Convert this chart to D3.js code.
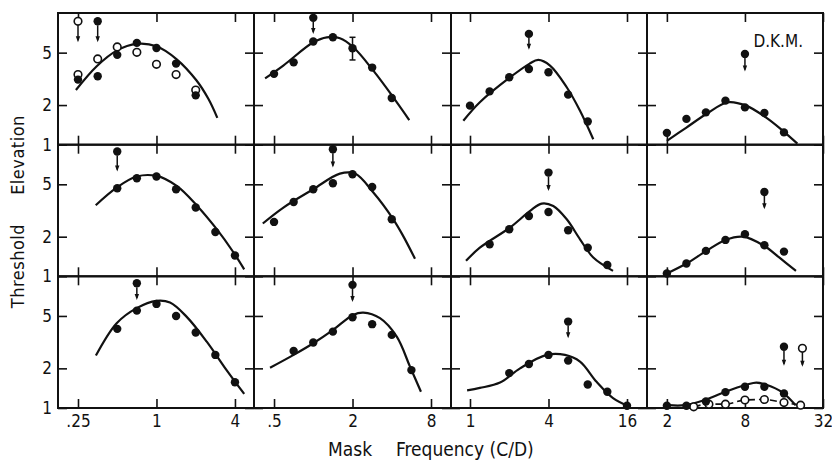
<!DOCTYPE html>
<html><head><meta charset="utf-8">
<script src="https://cdn.jsdelivr.net/npm/d3@7"></script>
<style>
body{margin:0;background:#fff}
svg text{font-family:"DejaVu Sans Condensed","DejaVu Sans",sans-serif;font-stretch:condensed;fill:#111}
</style></head><body>
<svg id="chart" width="832" height="464"></svg>
<script>
// ---------- axes ----------
const colTicks = [[0.25, 1, 4], [0.5, 2, 8], [1, 4, 16], [2, 8, 32]];
const colTickLabels = [[".25", "1", "4"], [".5", "2", "8"], ["1", "4", "16"], ["2", "8", "32"]];
const colDomains = [[0.1756, 5.6], [0.351, 11.39], [0.715, 22.78], [1.405, 32]];
const yDomain = [1, 10];
const yTicks = [1, 2, 5];
const yTickLabels = ["1", "2", "5"];

// ---------- data: mask frequency (c/deg) vs threshold elevation ----------
// row 1
const r1c1Freq = [0.25, 0.354, 0.5, 0.707, 1, 1.414, 2];
const r1c1Filled = [3.12, 3.31, 4.81, 5.93, 5.43, 4.13, 2.37];
const r1c1Open = [3.41, 4.48, 5.53, 5.03, 4.08, 3.41, 2.6];
const r1c1CurveF = [0.241, 0.348, 0.495, 0.705, 1.0, 1.43, 2.03, 2.5, 2.93];
const r1c1CurveV = [2.6, 3.94, 5.18, 5.83, 5.59, 4.45, 3.07, 2.23, 1.6];
const r1c1Arrows = [{f: 0.25, top: 8.65, tip: 6.0, open: true}, {f: 0.354, top: 8.65, tip: 6.0, open: false}];

const r1c2Freq = [0.5, 0.707, 1, 1.414, 2, 2.83, 4];
const r1c2Filled = [3.45, 4.22, 6.07, 6.54, 5.4, 3.85, 2.26];
const r1c2CurveF = [0.427, 0.589, 1.0, 1.27, 1.6, 2.03, 2.89, 4.11, 5.45];
const r1c2CurveV = [3.19, 3.99, 5.99, 6.54, 6.43, 5.49, 3.65, 2.29, 1.54];
const r1c2Arrows = [{f: 1, top: 9.19, tip: 6.94, open: false}];
const r1c2ErrorBars = [{f: 2, lo: 4.4, hi: 6.54}];

const r1c3Freq = [1, 1.414, 2, 2.83, 4, 5.66, 8];
const r1c3Filled = [1.98, 2.54, 3.25, 3.76, 3.55, 2.4, 1.5];
const r1c3CurveF = [0.889, 1.19, 2.0, 2.85, 3.34, 4.11, 5.52, 6.98, 8.82];
const r1c3CurveV = [1.52, 2.1, 3.21, 4.11, 4.4, 3.99, 2.73, 1.81, 1.1];
const r1c3Arrows = [{f: 2.83, top: 6.94, tip: 5.25, open: false}];

const r1c4Freq = [2, 2.83, 4, 5.66, 8, 11.3, 16];
const r1c4Filled = [1.23, 1.57, 1.76, 2.16, 1.92, 1.74, 1.24];
const r1c4CurveF = [2, 2.83, 4.03, 5.9, 8.17, 11.6, 15.6, 20.3];
const r1c4CurveV = [1.07, 1.35, 1.71, 2.1, 1.98, 1.61, 1.28, 1.02];
const r1c4Arrows = [{f: 8, top: 4.89, tip: 3.59, open: false}];

// row 2
const r2c1Freq = [0.5, 0.707, 1, 1.414, 2, 2.83, 4];
const r2c1Filled = [4.67, 5.56, 5.73, 4.59, 3.33, 2.17, 1.44];
const r2c1CurveF = [0.342, 0.495, 0.705, 1.0, 1.43, 2.03, 2.9, 3.88, 4.71];
const r2c1CurveV = [3.47, 4.72, 5.73, 5.79, 4.86, 3.47, 2.28, 1.53, 1.13];
const r2c1Arrows = [{f: 0.5, top: 8.87, tip: 6.25, open: false}];

const r2c2Freq = [0.5, 0.707, 1, 1.414, 2, 2.83, 4];
const r2c2Filled = [2.59, 3.67, 4.59, 5.09, 5.96, 4.77, 2.71];
const r2c2CurveF = [0.41, 0.59, 1.0, 1.6, 2.09, 2.89, 4.11, 4.9, 6.03];
const r2c2CurveV = [2.52, 3.33, 4.59, 6.03, 6.03, 4.33, 2.71, 2.02, 1.36];
const r2c2Arrows = [{f: 1.414, top: 9.23, tip: 6.7, open: false}];

const r2c3Freq = [1.414, 2, 2.83, 4, 5.66, 8, 11.3];
const r2c3Filled = [1.75, 2.28, 2.87, 3.08, 2.24, 1.65, 1.22];
const r2c3CurveF = [0.932, 1.19, 2.03, 2.89, 3.55, 4.35, 5.52, 6.98, 8.82, 12.5];
const r2c3CurveV = [1.31, 1.65, 2.35, 3.14, 3.57, 3.42, 2.71, 1.91, 1.39, 1.1];
const r2c3Arrows = [{f: 4, top: 6.14, tip: 4.45, open: false}];

const r2c4Freq = [2, 2.83, 4, 5.66, 8, 11.3, 16];
const r2c4Filled = [1.05, 1.25, 1.56, 1.89, 2.09, 1.72, 1.54];
const r2c4CurveF = [2, 2.83, 4.03, 5.67, 7.69, 11.3, 14.7, 19.8];
const r2c4CurveV = [1.05, 1.25, 1.56, 1.89, 2.0, 1.7, 1.39, 1.1];
const r2c4Arrows = [{f: 11.3, top: 4.37, tip: 3.23, open: false}];

// row 3
const r3c1Freq = [0.5, 0.707, 1, 1.414, 2, 2.83, 4];
const r3c1Filled = [3.99, 5.49, 6.17, 5.0, 3.74, 2.53, 1.57];
const r3c1CurveF = [0.343, 0.495, 0.705, 1.0, 1.27, 1.7, 2.43, 3.45, 4.71];
const r3c1CurveV = [2.5, 4.4, 5.73, 6.51, 6.32, 4.94, 3.19, 1.94, 1.28];
const r3c1Arrows = [{f: 0.707, top: 8.87, tip: 6.62, open: false}];

const r3c2Freq = [0.707, 1, 1.414, 2, 2.83, 4, 5.66];
const r3c2Filled = [2.71, 3.14, 3.8, 4.89, 4.33, 3.59, 1.94];
const r3c2CurveF = [0.466, 0.707, 1.0, 1.42, 2.02, 2.42, 3.25, 4.37, 5.52, 6.7];
const r3c2CurveV = [2.02, 2.53, 3.1, 3.92, 5.09, 5.3, 4.81, 3.48, 2.06, 1.33];
const r3c2Arrows = [{f: 2, top: 8.61, tip: 6.39, open: false}];

const r3c3Freq = [2, 2.83, 4, 5.66, 8, 11.3, 16];
const r3c3Filled = [1.84, 2.16, 2.53, 2.29, 1.51, 1.33, 1.04];
const r3c3CurveF = [0.95, 1.19, 1.7, 2.42, 3.87, 5.35, 6.98, 9.35, 12.5, 16.9];
const r3c3CurveV = [1.36, 1.42, 1.56, 2.0, 2.53, 2.53, 2.25, 1.58, 1.19, 1.02];
const r3c3Arrows = [{f: 5.66, top: 4.53, tip: 3.39, open: false}];

const r3c4Freq = [2, 2.83, 4, 5.66, 8, 11.3, 16];
const r3c4Filled = [1.04, 1.04, 1.12, 1.32, 1.45, 1.45, 1.29];
const r3c4OpenFreq = [3.22, 4.22, 5.66, 8, 11.3, 16, 21.5];
const r3c4Open = [1.02, 1.07, 1.07, 1.15, 1.16, 1.1, 1.05];
const r3c4CurveF = [2.05, 2.75, 3.91, 5.67, 8.2, 9.8, 11.7, 15.6, 19.7];
const r3c4CurveV = [1.05, 1.05, 1.15, 1.33, 1.5, 1.56, 1.5, 1.31, 1.05];
const r3c4Arrows = [{f: 16, top: 2.92, tip: 2.09, open: false}, {f: 22.2, top: 2.84, tip: 2.06, open: true}];

const panels = [
  {row: 0, col: 0, freq: r1c1Freq, filled: r1c1Filled, openFreq: r1c1Freq, open: r1c1Open, curveF: r1c1CurveF, curveV: r1c1CurveV, arrows: r1c1Arrows},
  {row: 0, col: 1, freq: r1c2Freq, filled: r1c2Filled, curveF: r1c2CurveF, curveV: r1c2CurveV, arrows: r1c2Arrows, errorBars: r1c2ErrorBars},
  {row: 0, col: 2, freq: r1c3Freq, filled: r1c3Filled, curveF: r1c3CurveF, curveV: r1c3CurveV, arrows: r1c3Arrows},
  {row: 0, col: 3, freq: r1c4Freq, filled: r1c4Filled, curveF: r1c4CurveF, curveV: r1c4CurveV, arrows: r1c4Arrows},
  {row: 1, col: 0, freq: r2c1Freq, filled: r2c1Filled, curveF: r2c1CurveF, curveV: r2c1CurveV, arrows: r2c1Arrows},
  {row: 1, col: 1, freq: r2c2Freq, filled: r2c2Filled, curveF: r2c2CurveF, curveV: r2c2CurveV, arrows: r2c2Arrows},
  {row: 1, col: 2, freq: r2c3Freq, filled: r2c3Filled, curveF: r2c3CurveF, curveV: r2c3CurveV, arrows: r2c3Arrows},
  {row: 1, col: 3, freq: r2c4Freq, filled: r2c4Filled, curveF: r2c4CurveF, curveV: r2c4CurveV, arrows: r2c4Arrows},
  {row: 2, col: 0, freq: r3c1Freq, filled: r3c1Filled, curveF: r3c1CurveF, curveV: r3c1CurveV, arrows: r3c1Arrows},
  {row: 2, col: 1, freq: r3c2Freq, filled: r3c2Filled, curveF: r3c2CurveF, curveV: r3c2CurveV, arrows: r3c2Arrows},
  {row: 2, col: 2, freq: r3c3Freq, filled: r3c3Filled, curveF: r3c3CurveF, curveV: r3c3CurveV, arrows: r3c3Arrows},
  {row: 2, col: 3, freq: r3c4Freq, filled: r3c4Filled, openFreq: r3c4OpenFreq, open: r3c4Open, dashedOpen: true, curveF: r3c4CurveF, curveV: r3c4CurveV, arrows: r3c4Arrows}
];

// ---------- layout ----------
const colEdges = [58, 254, 451, 647, 823];
const rowEdges = [13, 144.7, 276.3, 408];
const ink = "#111";
const tickLen = 9;
const svg = d3.select("#chart");

panels.forEach(p => {
  const xl = colEdges[p.col], xr = colEdges[p.col + 1];
  const yt = rowEdges[p.row], yb = rowEdges[p.row + 1];
  const x = d3.scaleLog().domain(colDomains[p.col]).range([xl, xr]);
  const y = d3.scaleLog().domain(yDomain).range([yb, yt]);
  const g = svg.append("g");

  const bottomRow = p.row === 2;
  const leftCol = p.col === 0;

  // inward ticks on all four sides
  const axB = g.append("g").attr("transform", `translate(0,${yb})`)
    .call(d3.axisBottom(x).tickValues(colTicks[p.col]).tickSizeInner(-tickLen).tickSizeOuter(0).tickPadding(7)
      .tickFormat((d, i) => bottomRow ? colTickLabels[p.col][i] : ""));
  const axT = g.append("g").attr("transform", `translate(0,${yt})`)
    .call(d3.axisTop(x).tickValues(colTicks[p.col]).tickSizeInner(-tickLen).tickSizeOuter(0).tickFormat(""));
  const axL = g.append("g").attr("transform", `translate(${xl},0)`)
    .call(d3.axisLeft(y).tickValues(yTicks).tickSizeInner(-tickLen).tickSizeOuter(0).tickPadding(6)
      .tickFormat((d, i) => leftCol ? yTickLabels[i] : ""));
  const axR = g.append("g").attr("transform", `translate(${xr},0)`)
    .call(d3.axisRight(y).tickValues(yTicks).tickSizeInner(-tickLen).tickSizeOuter(0).tickFormat(""));
  [axB, axT, axL, axR].forEach(a => {
    a.attr("font-size", 17);
    a.select(".domain").remove();
    a.selectAll(".tick line").attr("stroke", ink).attr("stroke-width", 1.6);
  });

  // panel frame
  g.append("rect").attr("x", xl).attr("y", yt).attr("width", xr - xl).attr("height", yb - yt)
    .attr("fill", "none").attr("stroke", ink).attr("stroke-width", 2);

  // fitted curve
  const curvePts = p.curveF.map((f, i) => [x(f), y(p.curveV[i])]);
  g.append("path").attr("d", d3.line().curve(d3.curveCatmullRom.alpha(0.5))(curvePts))
    .attr("fill", "none").attr("stroke", ink).attr("stroke-width", 2.2).attr("stroke-linejoin", "round");

  // dashed line through open symbols
  if (p.dashedOpen) {
    const op = p.openFreq.map((f, i) => [x(f), y(p.open[i])]);
    g.append("path").attr("d", d3.line().curve(d3.curveMonotoneX)(op))
      .attr("fill", "none").attr("stroke", ink).attr("stroke-width", 1.6).attr("stroke-dasharray", "7,4");
  }

  // error bars
  (p.errorBars || []).forEach(e => {
    const ex = x(e.f);
    g.append("line").attr("x1", ex).attr("x2", ex).attr("y1", y(e.lo)).attr("y2", y(e.hi)).attr("stroke", ink).attr("stroke-width", 1.5);
    [e.lo, e.hi].forEach(v => g.append("line").attr("x1", ex - 3).attr("x2", ex + 3).attr("y1", y(v)).attr("y2", y(v)).attr("stroke", ink).attr("stroke-width", 1.5));
  });

  // open symbols
  if (p.open) {
    g.selectAll(null).data(p.open).join("circle")
      .attr("cx", (d, i) => x(p.openFreq[i])).attr("cy", d => y(d)).attr("r", 3.8)
      .attr("fill", "#fff").attr("stroke", ink).attr("stroke-width", 1.6);
  }
  // filled symbols
  g.selectAll(null).data(p.filled).join("circle")
    .attr("cx", (d, i) => x(p.freq[i])).attr("cy", d => y(d)).attr("r", 4.2).attr("fill", ink);

  // "less than" arrows
  p.arrows.forEach(a => {
    const ax = x(a.f), yTop = y(a.top), yTip = y(a.tip);
    g.append("line").attr("x1", ax).attr("x2", ax).attr("y1", yTop + 4).attr("y2", yTip - 2)
      .attr("stroke", ink).attr("stroke-width", 1.5);
    g.append("path").attr("d", `M${ax - 2.2},${yTip - 6}L${ax + 2.2},${yTip - 6}L${ax},${yTip}Z`).attr("fill", ink);
    g.append("circle").attr("cx", ax).attr("cy", yTop).attr("r", a.open ? 3.8 : 4.2)
      .attr("fill", a.open ? "#fff" : ink).attr("stroke", ink).attr("stroke-width", a.open ? 1.6 : 0);
  });
});

// observer initials
svg.append("text").attr("x", 803).attr("y", 47).attr("text-anchor", "end").attr("font-size", 17).text("D.K.M.");

// axis titles
svg.append("text").attr("transform", "translate(24,266) rotate(-90)").attr("text-anchor", "middle").attr("font-size", 18)
  .attr("letter-spacing", 0.5).text("Threshold");
svg.append("text").attr("transform", "translate(24,155) rotate(-90)").attr("text-anchor", "middle").attr("font-size", 18)
  .attr("letter-spacing", 0.5).text("Elevation");
svg.append("text").attr("x", 328).attr("y", 456).attr("font-size", 19).text("Mask");
svg.append("text").attr("x", 396).attr("y", 456).attr("font-size", 19).text("Frequency (C/D)");
</script>
</body></html>
